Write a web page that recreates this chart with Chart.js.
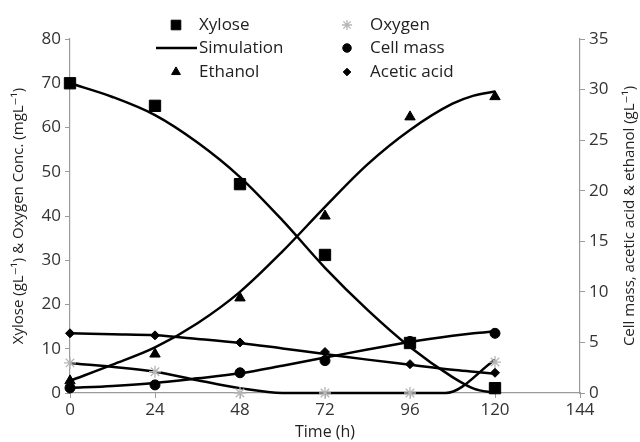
<!DOCTYPE html>
<html>
<head>
<meta charset="utf-8">
<script src="https://cdn.jsdelivr.net/npm/chart.js@4/dist/chart.umd.min.js"></script>
<style>
  html, body { margin: 0; padding: 0; background: #ffffff; }
  .chart-container { position: relative; width: 640px; height: 442px; }
</style>
</head>
<body>
<div class="chart-container"><canvas id="myChart"></canvas></div>
<script>
// Mesures (points)
const hours = [0, 24, 48, 72, 96, 120];
const xylose = [70, 64.9, 47.2, 31.2, 11.3, 1.1];      // axe gauche
const oxygen = [6.8, 4.8, 0, 0, 0, 7.0];               // axe gauche
const ethanol = [1.2, 3.85, 9.4, 17.5, 27.3, 29.3];    // axe droit
const cellMass = [0.5, 0.8, 2.0, 3.2, 5.1, 5.9];       // axe droit
const aceticAcid = [5.9, 5.7, 5.0, 4.05, 2.85, 2.0];   // axe droit

// Courbes de simulation
const simHours = [0, 12, 24, 36, 48, 60, 72, 84, 96, 108, 114, 120];
const xyloseSim = [70, 66.9, 62.8, 56.6, 48.8, 39.0, 28.3, 18.8, 10.4, 3.6, 1.0, 0];
const ethanolSim = [1.2, 2.8, 4.5, 6.9, 10, 14, 18.4, 22.6, 26, 28.6, 29.4, 29.8];
const cellMassSim = [0.5, 0.7, 1.0, 1.45, 1.95, 2.7, 3.5, 4.3, 5.05, 5.65, 5.9, 6.1];
const aceticAcidSim = [5.9, 5.8, 5.7, 5.35, 4.95, 4.4, 3.85, 3.3, 2.8, 2.3, 2.1, 1.9];
const oxygenSimHours = [0, 24, 36, 48, 60, 72, 96, 106, 120];
const oxygenSim = [6.8, 4.8, 2.9, 1.1, 0, 0, 0, 0, 7.5];

// Ticks
const xTicks = [0, 24, 48, 72, 96, 120, 144];
const leftTicks = [0, 10, 20, 30, 40, 50, 60, 70, 80];
const rightTicks = [0, 5, 10, 15, 20, 25, 30, 35];

const FONT = "'Open Sans', 'DejaVu Sans', sans-serif";
const AXIS_GREY = '#9a9a9a';

const pts = (xs, ys) => xs.map((x, i) => ({ x: x, y: ys[i] }));

function markers(label, xs, ys, axis, style, radius, color) {
    return {
        label: label,
        data: pts(xs, ys),
        yAxisID: axis,
        showLine: false,
        pointStyle: style,
        pointRadius: radius,
        pointHoverRadius: radius,
        pointBackgroundColor: color,
        pointBorderColor: color,
        pointBorderWidth: style === 'star' ? 1.3 : 1,
        clip: false
    };
}

function simLine(xs, ys, axis) {
    return {
        label: 'Simulation',
        data: pts(xs, ys),
        yAxisID: axis,
        showLine: true,
        borderColor: '#000000',
        backgroundColor: '#000000',
        borderWidth: 2.5,
        pointRadius: 0,
        pointHoverRadius: 0,
        cubicInterpolationMode: 'monotone',
        clip: false
    };
}

// Légende à deux colonnes dessinée à la main
const legendPlugin = {
    id: 'twoColumnLegend',
    afterDraw(chart) {
        const ctx = chart.ctx;
        const ds = chart.data.datasets;
        const items = [
            { col: 0, row: 0, ds: ds[0] },
            { col: 0, row: 1, line: true, text: 'Simulation' },
            { col: 0, row: 2, ds: ds[2] },
            { col: 1, row: 0, ds: ds[1] },
            { col: 1, row: 1, ds: ds[3] },
            { col: 1, row: 2, ds: ds[4] }
        ];
        const colX = [176, 347];
        const textX = [199, 370];
        const rowY = [25, 48, 72];
        ctx.save();
        ctx.font = '17px ' + FONT;
        ctx.textBaseline = 'middle';
        items.forEach(it => {
            const y = rowY[it.row];
            if (it.line) {
                ctx.strokeStyle = '#000';
                ctx.lineWidth = 2.5;
                ctx.beginPath();
                ctx.moveTo(156, y);
                ctx.lineTo(197, y);
                ctx.stroke();
                ctx.fillStyle = '#222';
                ctx.fillText(it.text, textX[it.col], y);
                return;
            }
            const d = it.ds;
            ctx.fillStyle = d.pointBackgroundColor;
            ctx.strokeStyle = d.pointBorderColor;
            ctx.lineWidth = d.pointBorderWidth;
            Chart.helpers.drawPoint(ctx, {
                pointStyle: d.pointStyle,
                radius: d.pointRadius * 0.85,
                rotation: 0,
                borderWidth: d.pointBorderWidth
            }, colX[it.col], y);
            ctx.fillStyle = '#222';
            ctx.fillText(d.label, textX[it.col], y);
        });
        ctx.restore();
    }
};

// Titres des axes Y (les deux lus de bas en haut)
const axisTitlePlugin = {
    id: 'axisTitles',
    afterDraw(chart) {
        const ctx = chart.ctx;
        const mid = (chart.chartArea.top + chart.chartArea.bottom) / 2;
        ctx.save();
        ctx.font = '15px ' + FONT;
        ctx.fillStyle = '#222';
        ctx.textAlign = 'center';
        ctx.textBaseline = 'middle';
        [[19, 'Xylose (gL\u207B\u00B9) & Oxygen Conc. (mgL\u207B\u00B9)'],
         [630, 'Cell mass, acetic acid & ethanol (gL\u207B\u00B9)']].forEach(([x, txt]) => {
            ctx.save();
            ctx.translate(x, mid);
            ctx.rotate(-Math.PI / 2);
            ctx.fillText(txt, 0, 0);
            ctx.restore();
        });
        ctx.restore();
    }
};

const tickFont = { family: FONT, size: 17 };

const config = {
    type: 'scatter',
    data: {
        datasets: [
            markers('Xylose', hours, xylose, 'y', 'rect', 8, '#000'),
            markers('Oxygen', hours, oxygen, 'y', 'star', 6, '#b5b5b5'),
            markers('Ethanol', hours, ethanol, 'y1', 'triangle', 6, '#000'),
            markers('Cell mass', hours, cellMass, 'y1', 'circle', 5, '#000'),
            markers('Acetic acid', hours, aceticAcid, 'y1', 'rectRot', 4.5, '#000'),
            simLine(simHours, xyloseSim, 'y'),
            simLine(oxygenSimHours, oxygenSim, 'y'),
            simLine(simHours, ethanolSim, 'y1'),
            simLine(simHours, cellMassSim, 'y1'),
            simLine(simHours, aceticAcidSim, 'y1')
        ]
    },
    options: {
        responsive: true,
        maintainAspectRatio: false,
        animation: false,
        layout: { padding: { top: 39, left: 0, right: 0, bottom: 0 } },
        scales: {
            x: {
                type: 'linear',
                min: 0,
                max: 144,
                afterBuildTicks: s => { s.ticks = xTicks.map(v => ({ value: v })); },
                afterFit: s => { s.height = 49; },
                ticks: { font: tickFont, color: '#333', padding: 2, maxRotation: 0 },
                grid: { drawOnChartArea: false, tickLength: 5, color: AXIS_GREY },
                border: { color: AXIS_GREY, width: 1.2 },
                title: {
                    display: true,
                    text: 'Time (h)',
                    font: { family: FONT, size: 16 },
                    color: '#222',
                    padding: { top: -2, bottom: 0 }
                }
            },
            y: {
                position: 'left',
                min: 0,
                max: 80,
                afterBuildTicks: s => { s.ticks = leftTicks.map(v => ({ value: v })); },
                afterFit: s => { s.width = 70; },
                ticks: { font: tickFont, color: '#333', padding: 4 },
                grid: { drawOnChartArea: false, tickLength: 5, color: AXIS_GREY },
                border: { color: AXIS_GREY, width: 1.2 }
            },
            y1: {
                position: 'right',
                min: 0,
                max: 35,
                afterBuildTicks: s => { s.ticks = rightTicks.map(v => ({ value: v })); },
                afterFit: s => { s.width = 60; },
                ticks: { font: tickFont, color: '#333', padding: 4 },
                grid: { drawOnChartArea: false, tickLength: 5, color: AXIS_GREY },
                border: { color: AXIS_GREY, width: 1.2 }
            }
        },
        plugins: {
            legend: { display: false },
            tooltip: { enabled: false }
        }
    },
    plugins: [legendPlugin, axisTitlePlugin]
};

const ctx = document.getElementById('myChart').getContext('2d');
new Chart(ctx, config);
</script>
</body>
</html>
